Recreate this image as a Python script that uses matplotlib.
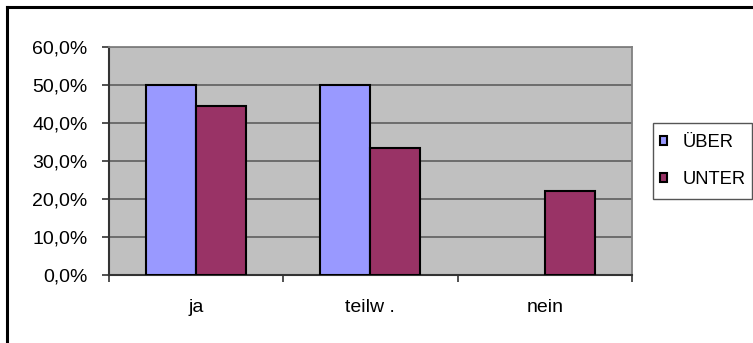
import numpy as np
import matplotlib
matplotlib.use("Agg")
import matplotlib.pyplot as plt
from matplotlib.lines import Line2D
from matplotlib.patches import Rectangle
from matplotlib.ticker import FixedLocator, FuncFormatter

# Data
categories = ["ja", "teilw .", "nein"]
series_names = ["ÜBER", "UNTER"]
ueber = [50.0, 50.0, 0.0]
unter = [44.4, 33.3, 22.2]
y_ticks = [0, 10, 20, 30, 40, 50, 60]

colors = {"ÜBER": "#9999FF", "UNTER": "#993366"}

plt.rcParams["font.family"] = ["Liberation Sans", "DejaVu Sans"]
FS = 14
FS_LEG = 13.2

W, H = 753, 343
fig = plt.figure(figsize=(W / 100, H / 100), dpi=100)
fig.patch.set_facecolor("white")


def fx(px):
    return px / W


def fy(py):
    return 1 - py / H


# plot area in pixel coordinates
left_px, right_px, top_px, bottom_px = 108.5, 632, 47, 275
ax = fig.add_axes([fx(left_px), fy(bottom_px),
                   (right_px - left_px) / W, (bottom_px - top_px) / H])
ax.set_facecolor("#C0C0C0")

x = np.arange(len(categories))
bw = 1 / 3.5
for vals, name, off in ((ueber, "ÜBER", -bw / 2), (unter, "UNTER", bw / 2)):
    bars = ax.bar(x + off, vals, width=bw, color=colors[name], edgecolor="black",
                  linewidth=1.5, label=name, zorder=3)
    for b, v in zip(bars, vals):
        if v == 0:
            b.set_linewidth(0)

ax.set_xlim(-0.5, len(categories) - 0.5)
ax.set_ylim(0, 60)

ax.yaxis.set_major_locator(FixedLocator(y_ticks))
ax.yaxis.set_major_formatter(FuncFormatter(lambda v, p: f"{v:.1f}%".replace(".", ",")))
ax.grid(axis="y", color="#5E5E5E", linewidth=1.2, zorder=1)
ax.set_axisbelow(True)

ax.set_xticks(x)
ax.set_xticklabels(categories)
ax.xaxis.set_minor_locator(FixedLocator(np.arange(-0.5, len(categories), 1.0)))
ax.tick_params(axis="x", which="major", length=0, pad=17, labelsize=FS)
ax.tick_params(axis="x", which="minor", length=5, width=1.2, color="#333333")
ax.tick_params(axis="y", length=5, width=1.2, color="#333333", pad=10, labelsize=FS)

for s in ("left", "bottom"):
    ax.spines[s].set_color("#333333")
    ax.spines[s].set_linewidth(1.5)
for s in ("right", "top"):
    ax.spines[s].set_color("#808080")
    ax.spines[s].set_linewidth(1.3)

# legend entries, with a separately drawn box around them
leg = fig.legend(loc="center left", bbox_to_anchor=(fx(660), fy(161)),
                 fontsize=FS_LEG, frameon=False,
                 handlelength=0.4, handleheight=0.4, handletextpad=0.85,
                 labelspacing=1.1, borderpad=0, borderaxespad=0)
for p in leg.get_patches():
    p.set_linewidth(1.5)
    p.set_edgecolor("black")
fig.add_artist(Rectangle((fx(653), fy(199)), (752 - 653) / W, (199 - 123) / H,
                         transform=fig.transFigure, facecolor="none",
                         edgecolor="#555555", linewidth=1.0))

# chart area border (left and top edges)
fig.add_artist(Line2D([fx(7), fx(7)], [0, fy(7)], transform=fig.transFigure,
                      color="black", linewidth=2.2))
fig.add_artist(Line2D([fx(7), 1], [fy(7), fy(7)], transform=fig.transFigure,
                      color="black", linewidth=2.2))

fig.savefig("out.png", dpi=100)
